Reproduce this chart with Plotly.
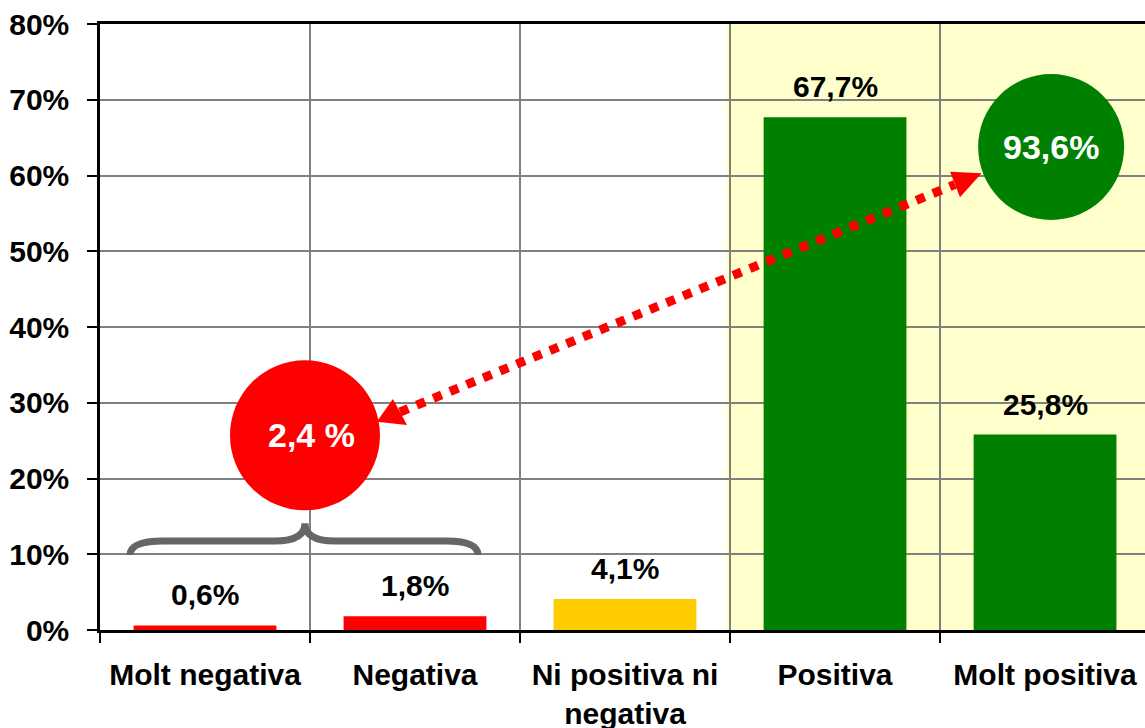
import plotly.graph_objects as go

# ---- data ----
categories = ["Molt negativa", "Negativa", "Ni positiva ni<br>negativa", "Positiva", "Molt positiva"]
values = [0.6, 1.8, 4.1, 67.7, 25.8]
bar_colors = ["#FF0000", "#FF0000", "#FFCC00", "#008000", "#008000"]
neg_total_label = "2,4 %"
pos_total_label = "93,6%"
y_ticks = [0, 10, 20, 30, 40, 50, 60, 70, 80]

FONT = "Arial, 'Liberation Sans', sans-serif"
FS = 30

def fmt(v):
    return f"{v:.1f}".replace(".", ",") + "%"

fig = go.Figure()
fig.add_trace(go.Bar(
    x=list(range(len(categories))), y=values,
    marker=dict(color=bar_colors, line=dict(width=0)),
    width=0.68, hoverinfo="skip", showlegend=False,
))

# data labels
for i, v in enumerate(values):
    fig.add_annotation(x=i, y=v, text=fmt(v), showarrow=False, yanchor="bottom", yshift=12,
                       font=dict(family=FONT, size=FS, color="black", weight=700))

shapes = []
# yellow background for positive categories
shapes.append(dict(type="rect", xref="x", yref="y", x0=2.48, x1=4.6, y0=0, y1=80,
                   fillcolor="#FFFFCC", line=dict(width=0), layer="below"))
# brace over negative categories
brace = ("M -0.357,9.9 Q -0.357,11.75 -0.2,11.75 L 0.33,11.75 Q 0.476,11.75 0.476,14.1 "
         "Q 0.476,11.75 0.62,11.75 L 1.15,11.75 Q 1.3,11.75 1.3,9.9")
shapes.append(dict(type="path", xref="x", yref="y", path=brace,
                   line=dict(color="#666666", width=7)))
# circles
shapes.append(dict(type="circle", xref="x", yref="y", xsizemode="pixel", ysizemode="pixel",
                   xanchor=0.476, yanchor=25.7, x0=-75, x1=75, y0=-75, y1=75,
                   fillcolor="#FF0000", line=dict(width=0)))
shapes.append(dict(type="circle", xref="x", yref="y", xsizemode="pixel", ysizemode="pixel",
                   xanchor=4.029, yanchor=63.76, x0=-73, x1=73, y0=-73, y1=73,
                   fillcolor="#008000", line=dict(width=0)))
# dotted double arrow
shapes.append(dict(type="line", xref="x", yref="y", x0=0.9286, y0=28.78, x1=3.571, y1=58.81,
                   line=dict(color="#FF0000", width=9, dash="dot")))
shapes.append(dict(type="path", xref="x", yref="y",
                   path="M 0.8176,27.50 L 0.895,30.50 L 0.962,27.06 Z",
                   fillcolor="#FF0000", line=dict(width=0)))
shapes.append(dict(type="path", xref="x", yref="y",
                   path="M 3.698,60.29 L 3.548,60.50 L 3.595,57.12 Z",
                   fillcolor="#FF0000", line=dict(width=0)))
fig.update_layout(shapes=shapes)

fig.add_annotation(x=0.476, y=25.7, text=neg_total_label, showarrow=False, xshift=7,
                   font=dict(family=FONT, size=34, color="white", weight=700))
fig.add_annotation(x=4.029, y=63.76, text=pos_total_label, showarrow=False,
                   font=dict(family=FONT, size=34, color="white", weight=700))

fig.update_layout(
    width=1145, height=728,
    margin=dict(l=100, r=0, t=24, b=98, autoexpand=False),
    paper_bgcolor="white", plot_bgcolor="white",
    xaxis=dict(
        type="category", tickmode="array",
        tickvals=list(range(len(categories))), ticktext=categories,
        tickson="boundaries", ticks="outside", ticklen=10, tickwidth=2, tickcolor="black",
        showgrid=True, gridcolor="#808080", gridwidth=1.5,
        showline=True, linecolor="black", linewidth=2.5, mirror=True,
        range=[-0.5, 4.476], ticklabelstandoff=16, automargin=False,
        tickfont=dict(family=FONT, size=FS, color="black", weight=700),
        zeroline=False,
    ),
    yaxis=dict(
        range=[0, 80], tickmode="array", tickvals=y_ticks,
        ticktext=[f"{t}%" for t in y_ticks],
        ticks="outside", ticklen=10, tickwidth=2, tickcolor="black",
        showgrid=True, gridcolor="#808080", gridwidth=1.5,
        showline=True, linecolor="black", linewidth=2.5, automargin=False,
        zeroline=False, ticklabelstandoff=12,
        tickfont=dict(family=FONT, size=FS, color="black", weight=700),
    ),
)

fig.write_html("out.html", config={"displayModeBar": False},
               post_script="document.body.style.margin='0px';document.body.style.overflow='hidden';")
